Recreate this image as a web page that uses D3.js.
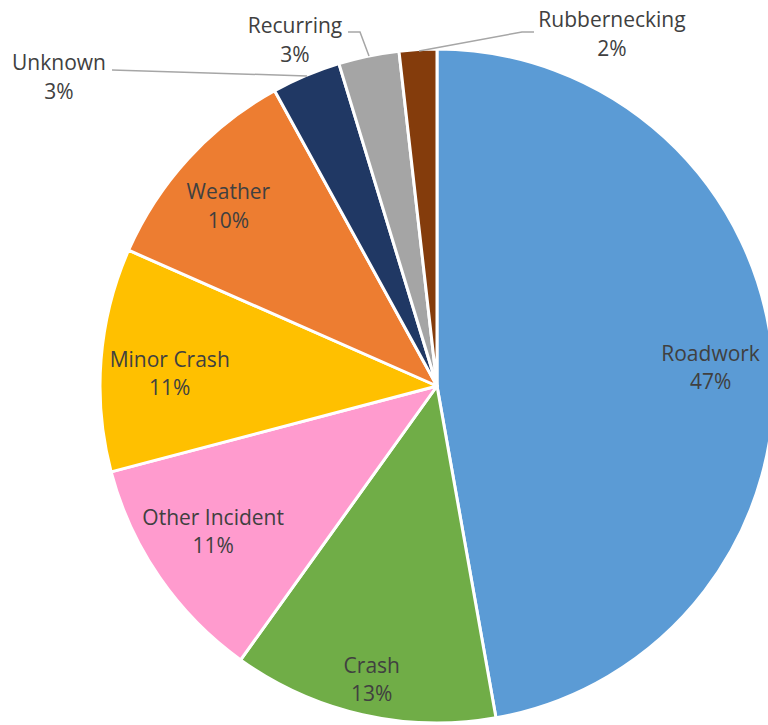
<!DOCTYPE html>
<meta charset="utf-8">
<html>
<style>
	body { margin: 0; background: #fff; }
	.lbl { font-family: "Open Sans", sans-serif; font-size: 21px; fill: #404040; }
	.leader { fill: none; stroke: #a6a6a6; stroke-width: 1.5px; }
</style>
<body>
	<script src="https://d3js.org/d3.v7.min.js"></script>
	<script type="text/javascript">
		// data (clockwise from 12 o'clock)
		var categories = ["Roadwork", "Crash", "Other Incident", "Minor Crash", "Weather", "Unknown", "Recurring", "Rubbernecking"];
		var values = [47.2, 12.7, 11.0, 10.7, 10.4, 3.3, 2.9, 1.8];
		var pctLabels = ["47%", "13%", "11%", "11%", "10%", "3%", "3%", "2%"];
		var colors = ["#5B9BD5", "#70AD47", "#FF9BCE", "#FFC000", "#ED7D31", "#203864", "#A5A5A5", "#843C0C"];

		var width = 768, height = 725;
		var cx = 437, cy = 386, R = 337;

		var svg = d3.select("body").append("svg")
			.attr("width", width)
			.attr("height", height);

		var g = svg.append("g").attr("transform", "translate(" + cx + "," + cy + ")");

		var pie = d3.pie().sort(null).value(function (d, i) { return values[i]; });
		var arcs = pie(categories);

		var arc = d3.arc().innerRadius(0).outerRadius(R);

		g.selectAll(".slice")
			.data(arcs)
			.enter().append("path")
			.attr("class", "slice")
			.attr("d", arc)
			.attr("fill", function (d, i) { return colors[i]; })
			.attr("stroke", "#fff")
			.attr("stroke-width", 3)
			.attr("stroke-linejoin", "round");

		// labels inside slices: [radius factor, angle nudge in degrees] (Excel best fit)
		var inside = {
			"Roadwork": [0.815, 0],
			"Crash": [0.875, 0],
			"Other Incident": [0.783, 2.6],
			"Minor Crash": [0.795, -0.6],
			"Weather": [0.829, -0.8]
		};
		// outer labels: text position and leader line points (relative to center)
		var outside = {
			"Unknown": { x: -378, y: -315, line: [[-325, -316], [-130, -310]] },
			"Recurring": { x: -142, y: -352, line: [[-89, -354], [-77, -354], [-68, -330]] },
			"Rubbernecking": { x: 175, y: -358, line: [[97, -354], [85, -354], [-18, -335]] }
		};

		arcs.forEach(function (d, i) {
			var name = categories[i];
			var x, y;
			if (inside[name]) {
				var a = (d.startAngle + d.endAngle) / 2 + inside[name][1] * Math.PI / 180;
				var r = R * inside[name][0];
				x = Math.sin(a) * r;
				y = -Math.cos(a) * r;
			} else {
				var o = outside[name];
				x = o.x; y = o.y;
				g.append("path")
					.attr("class", "leader")
					.attr("d", d3.line()(o.line));
			}
			var t = g.append("text")
				.attr("class", "lbl")
				.attr("text-anchor", "middle")
				.attr("x", x)
				.attr("y", y);
			t.append("tspan").attr("x", x).attr("dy", "-1").text(name);
			t.append("tspan").attr("x", x).attr("dy", "28.5").text(pctLabels[i]);
		});
	</script>
</body>
</html>
